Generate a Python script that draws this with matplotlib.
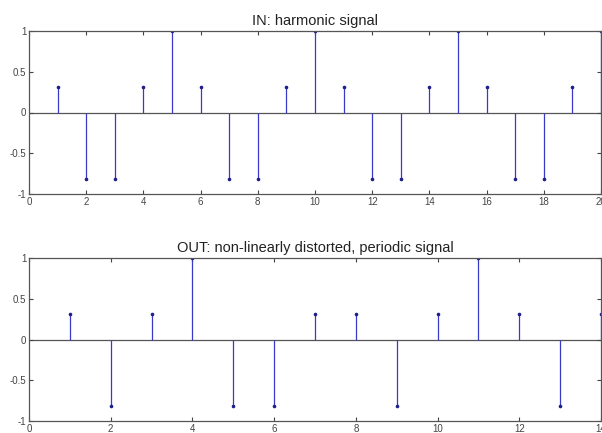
import matplotlib.pyplot as plt

plt.rcParams['font.family'] = ['Liberation Sans', 'DejaVu Sans']

# Señal de entrada (armónica) y de salida (distorsionada)
n_in = list(range(1, 21))
x_in = [0.31, -0.81, -0.81, 0.31, 1, 0.31, -0.81, -0.81, 0.31, 1,
        0.31, -0.81, -0.81, 0.31, 1, 0.31, -0.81, -0.81, 0.31, 1]

n_out = list(range(1, 15))
x_out = [0.31, -0.81, 0.31, 1, -0.81, -0.81, 0.31, 0.31, -0.81, 0.31,
         1, 0.31, -0.81, 0.31]

titulos = ['IN: harmonic signal', 'OUT: non-linearly distorted, periodic signal']
xmax = [20, 14]

fig = plt.figure(figsize=(6.02, 4.33), dpi=100)
ax1 = fig.add_axes([29 / 602, 1 - 194 / 433, 572 / 602, 163 / 433])
ax2 = fig.add_axes([29 / 602, 1 - 421 / 433, 572 / 602, 163 / 433])

for ax, n, x, t, xm in zip([ax1, ax2], [n_in, n_out], [x_in, x_out], titulos, xmax):
    ml, sl, bl = ax.stem(n, x, basefmt=' ')
    plt.setp(sl, color='#3a3ac8', linewidth=0.9)
    plt.setp(ml, color='#20208a', markersize=1.6)
    ax.axhline(0, color='#555555', linewidth=0.9, zorder=0)
    ax.set_xlim(0, xm)
    ax.set_ylim(-1, 1)
    ax.set_xticks(range(0, xm + 1, 2))
    ax.set_yticks([-1, -0.5, 0, 0.5, 1])
    ax.set_yticklabels(['-1', '-0.5', '0', '0.5', '1'])
    ax.tick_params(direction='in', top=True, right=True, length=3,
                   labelsize=7, labelcolor='#444444', color='#444444', pad=2)
    for s in ax.spines.values():
        s.set_color('#555555')
        s.set_linewidth(0.9)
    ax.set_title(t, fontsize=10.5, color='#222222', pad=4)

plt.savefig('out.png', dpi=100)
